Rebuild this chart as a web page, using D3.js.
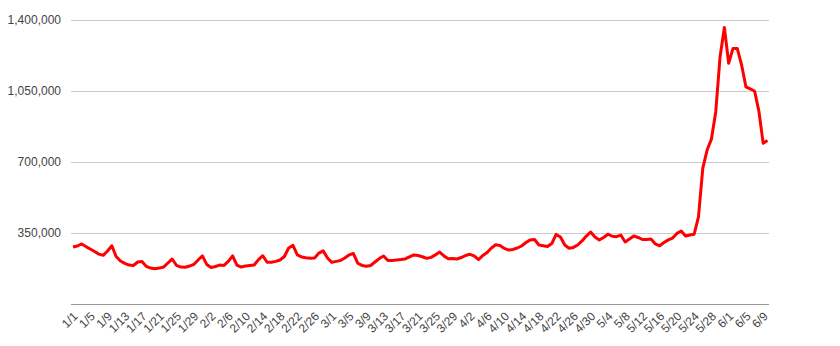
<!DOCTYPE html>
<html>
<head>
<meta charset="utf-8">
<script src="https://cdn.jsdelivr.net/npm/d3@7"></script>
<style>
  html, body { margin: 0; padding: 0; background: #fff; }
  svg { display: block; }
  text { font-family: Arial, "Liberation Sans", sans-serif; }
</style>
</head>
<body>
<svg id="chart" width="840" height="346"></svg>
<script>
// ---- data ----
const startDate = "2020-01-01";
const values = [
  281000, 286000, 296000, 283000, 271000, 259000, 246000, 240000, 261000, 287000,
  234000, 212000, 200000, 192000, 190000, 207000, 209000, 185000, 177000, 174000,
  177000, 182000, 202000, 222000, 190000, 182000, 181000, 187000, 195000, 217000,
  237000, 195000, 180000, 185000, 192000, 190000, 210000, 237000, 192000, 182000,
  187000, 190000, 192000, 219000, 238000, 206000, 206000, 210000, 217000, 234000,
  276000, 289000, 242000, 232000, 228000, 225000, 227000, 251000, 262000, 227000,
  205000, 210000, 214000, 227000, 242000, 249000, 201000, 190000, 186000, 190000,
  207000, 224000, 237000, 214000, 215000, 217000, 219000, 222000, 232000, 242000,
  239000, 233000, 225000, 230000, 242000, 256000, 237000, 223000, 224000, 222000,
  229000, 239000, 245000, 237000, 219000, 239000, 254000, 276000, 292000, 288000,
  274000, 266000, 269000, 276000, 286000, 303000, 316000, 318000, 291000, 287000,
  283000, 298000, 343000, 330000, 291000, 275000, 279000, 291000, 311000, 335000,
  355000, 330000, 316000, 328000, 344000, 334000, 332000, 340000, 306000, 320000,
  335000, 328000, 318000, 318000, 320000, 296000, 287000, 303000, 316000, 325000,
  348000, 360000, 335000, 340000, 344000, 429000, 670000, 759000, 813000, 947000,
  1218000, 1363000, 1187000, 1260000, 1259000, 1178000, 1070000, 1060000, 1050000, 951000,
  792000, 806000
];
const yTicks = [350000, 700000, 1050000, 1400000];
const xTickLabels = ["1/1","1/5","1/9","1/13","1/17","1/21","1/25","1/29","2/2","2/6",
  "2/10","2/14","2/18","2/22","2/26","3/1","3/5","3/9","3/13","3/17","3/21","3/25",
  "3/29","4/2","4/6","4/10","4/14","4/18","4/22","4/26","4/30","5/4","5/8","5/12",
  "5/16","5/20","5/24","5/28","6/1","6/5","6/9"];

// categories: one date label per value
const fmt = d3.timeFormat("%-m/%-d");
const t0 = d3.timeParse("%Y-%m-%d")(startDate);
const categories = values.map((v, i) => fmt(d3.timeDay.offset(t0, i)));

// ---- layout ----
const svg = d3.select("#chart");
const plotLeft = 71, plotRight = 769, plotTop = 20, plotBottom = 304;

const x = d3.scalePoint().domain(categories).range([73, 767.5]);
const y = d3.scaleLinear().domain([0, 1400000]).range([plotBottom, plotTop]);

// gridlines
svg.append("g").selectAll("line").data(yTicks).join("line")
  .attr("x1", plotLeft).attr("x2", plotRight)
  .attr("y1", d => Math.round(y(d)) + 0.5).attr("y2", d => Math.round(y(d)) + 0.5)
  .attr("stroke", "#cccccc").attr("stroke-width", 1);

// y labels
const yAxis = d3.axisLeft(y).tickValues(yTicks).tickSize(0).tickPadding(10)
  .tickFormat(d3.format(","));
const gy = svg.append("g").attr("transform", `translate(${plotLeft},0)`).call(yAxis);
gy.select(".domain").remove();
gy.selectAll("text").attr("fill", "#444").style("font-size", "12px")
  .style("font-family", "Arial, 'Liberation Sans', sans-serif");

// baseline
svg.append("line").attr("x1", plotLeft).attr("x2", plotRight)
  .attr("y1", plotBottom + 0.5).attr("y2", plotBottom + 0.5)
  .attr("stroke", "#999").attr("stroke-width", 1);

// x labels
const xAxis = d3.axisBottom(x).tickValues(xTickLabels).tickSize(0).tickPadding(0);
const gx = svg.append("g").attr("transform", `translate(0,${plotBottom})`).call(xAxis);
gx.select(".domain").remove();
gx.selectAll(".tick text")
  .attr("fill", "#444").style("font-size", "12px")
  .style("font-family", "Arial, 'Liberation Sans', sans-serif")
  .attr("text-anchor", "end")
  .attr("dy", null).attr("y", 0)
  .attr("transform", "translate(5,13) rotate(-45)");

// line
const line = d3.line().x((d, i) => x(categories[i])).y(d => y(d));
svg.append("path").datum(values)
  .attr("d", line)
  .attr("fill", "none").attr("stroke", "#ff0000")
  .attr("stroke-width", 3).attr("stroke-linejoin", "round");
</script>
</body>
</html>
